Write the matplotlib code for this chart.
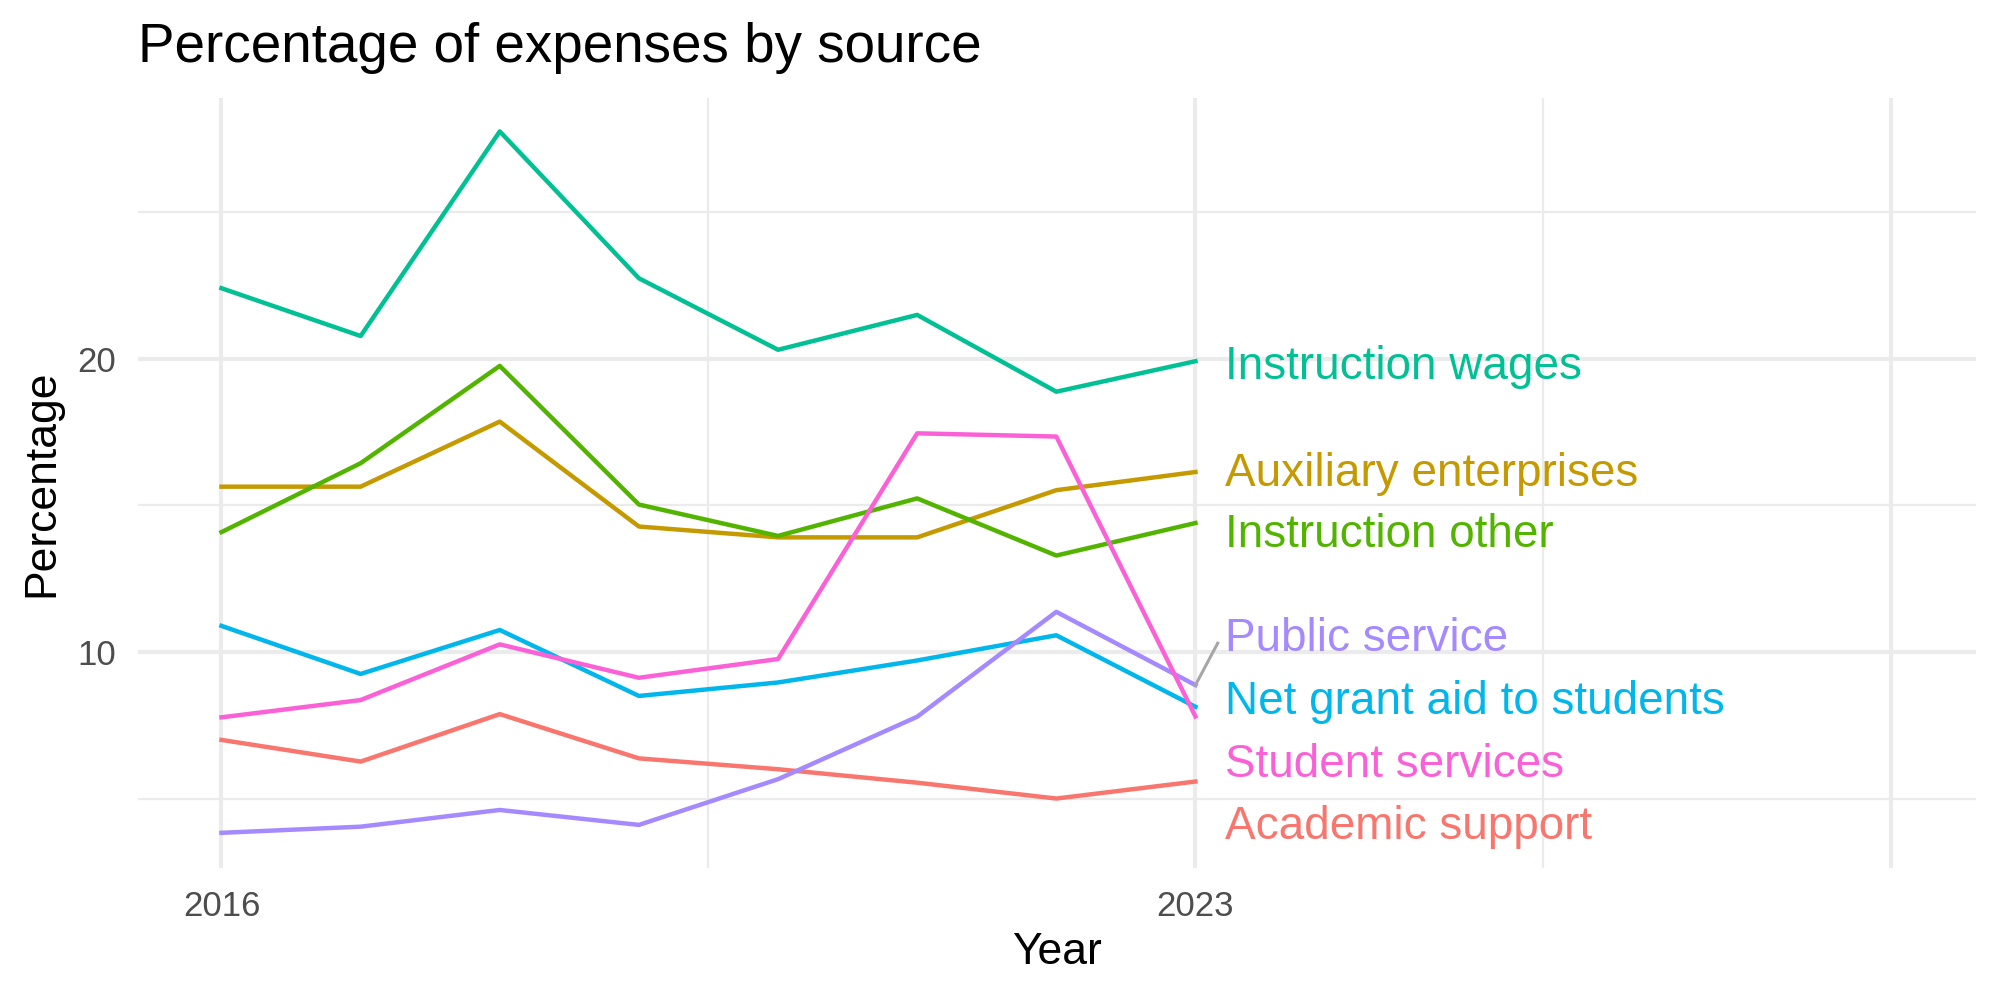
import matplotlib
matplotlib.use("Agg")
import matplotlib.pyplot as plt

plt.rcParams['font.family'] = ['Liberation Sans', 'DejaVu Sans']

# data
years = [2016, 2017, 2018, 2019, 2020, 2021, 2022, 2023]
academic_support = [7.00, 6.26, 7.88, 6.37, 6.00, 5.54, 5.00, 5.58]
auxiliary_enterprises = [15.64, 15.64, 17.86, 14.28, 13.91, 13.91, 15.52, 16.14]
instruction_other = [14.09, 16.44, 19.76, 15.03, 13.96, 15.24, 13.29, 14.40]
instruction_wages = [22.41, 20.78, 27.76, 22.75, 20.31, 21.50, 18.88, 19.92]
net_grant_aid = [10.89, 9.25, 10.75, 8.50, 8.96, 9.71, 10.57, 8.13]
public_service = [3.83, 4.04, 4.61, 4.10, 5.66, 7.79, 11.37, 8.87]
student_services = [7.77, 8.36, 10.26, 9.12, 9.76, 17.46, 17.35, 7.80]

series = {
    "Academic support": academic_support,
    "Auxiliary enterprises": auxiliary_enterprises,
    "Instruction other": instruction_other,
    "Instruction wages": instruction_wages,
    "Net grant aid to students": net_grant_aid,
    "Public service": public_service,
    "Student services": student_services,
}
colors = {
    "Academic support": "#F8766D",
    "Auxiliary enterprises": "#C49A00",
    "Instruction other": "#53B400",
    "Instruction wages": "#00C094",
    "Net grant aid to students": "#00B6EB",
    "Public service": "#A58AFF",
    "Student services": "#FB61D7",
}
# repelled label heights (y value of label centre)
label_y = {
    "Instruction wages": 19.72,
    "Auxiliary enterprises": 16.08,
    "Instruction other": 13.98,
    "Public service": 10.45,
    "Net grant aid to students": 8.28,
    "Student services": 6.13,
    "Academic support": 4.03,
}

fig = plt.figure(figsize=(10, 5), dpi=200)
ax = fig.add_axes([0.069, 0.132, 0.919, 0.770])

grid_col = "#EBEBEB"
# minor grid
for x in [2019.5, 2025.5]:
    ax.axvline(x, color=grid_col, lw=0.8, zorder=0)
for y in [5, 15, 25]:
    ax.axhline(y, color=grid_col, lw=0.8, zorder=0)
# major grid
for x in [2016, 2023, 2028]:
    ax.axvline(x, color=grid_col, lw=1.5, zorder=0)
for y in [10, 20]:
    ax.axhline(y, color=grid_col, lw=1.5, zorder=0)

for name, vals in series.items():
    ax.plot(years, vals, color=colors[name], lw=1.6, zorder=2)

for name, vals in series.items():
    ax.text(2023.21, label_y[name], name, color=colors[name], fontsize=16.5,
            ha='left', va='center', zorder=3)

# repel segment for Public service
ax.plot([2023, 2023.16], [public_service[-1], 10.3], color="#A6A6A6", lw=1.1, zorder=3)

ax.set_xlim(2015.40, 2028.61)
ax.set_ylim(2.63, 28.9)
ax.set_xticks([2016, 2023])
ax.set_xticklabels(["2016", "2023"])
ax.set_yticks([10, 20])
ax.tick_params(length=0, labelsize=12.5, colors="#4D4D4D", pad=8)
for s in ax.spines.values():
    s.set_visible(False)

fig.text(0.069, 0.938, "Percentage of expenses by source", fontsize=19.7,
         ha='left', va='baseline')
fig.text(0.5285, 0.047, "Year", fontsize=16, ha='center', va='center')
fig.text(0.021, 0.517, "Percentage", fontsize=16, ha='center', va='center',
         rotation=90)

fig.savefig("out.png", dpi=200, facecolor="white")
